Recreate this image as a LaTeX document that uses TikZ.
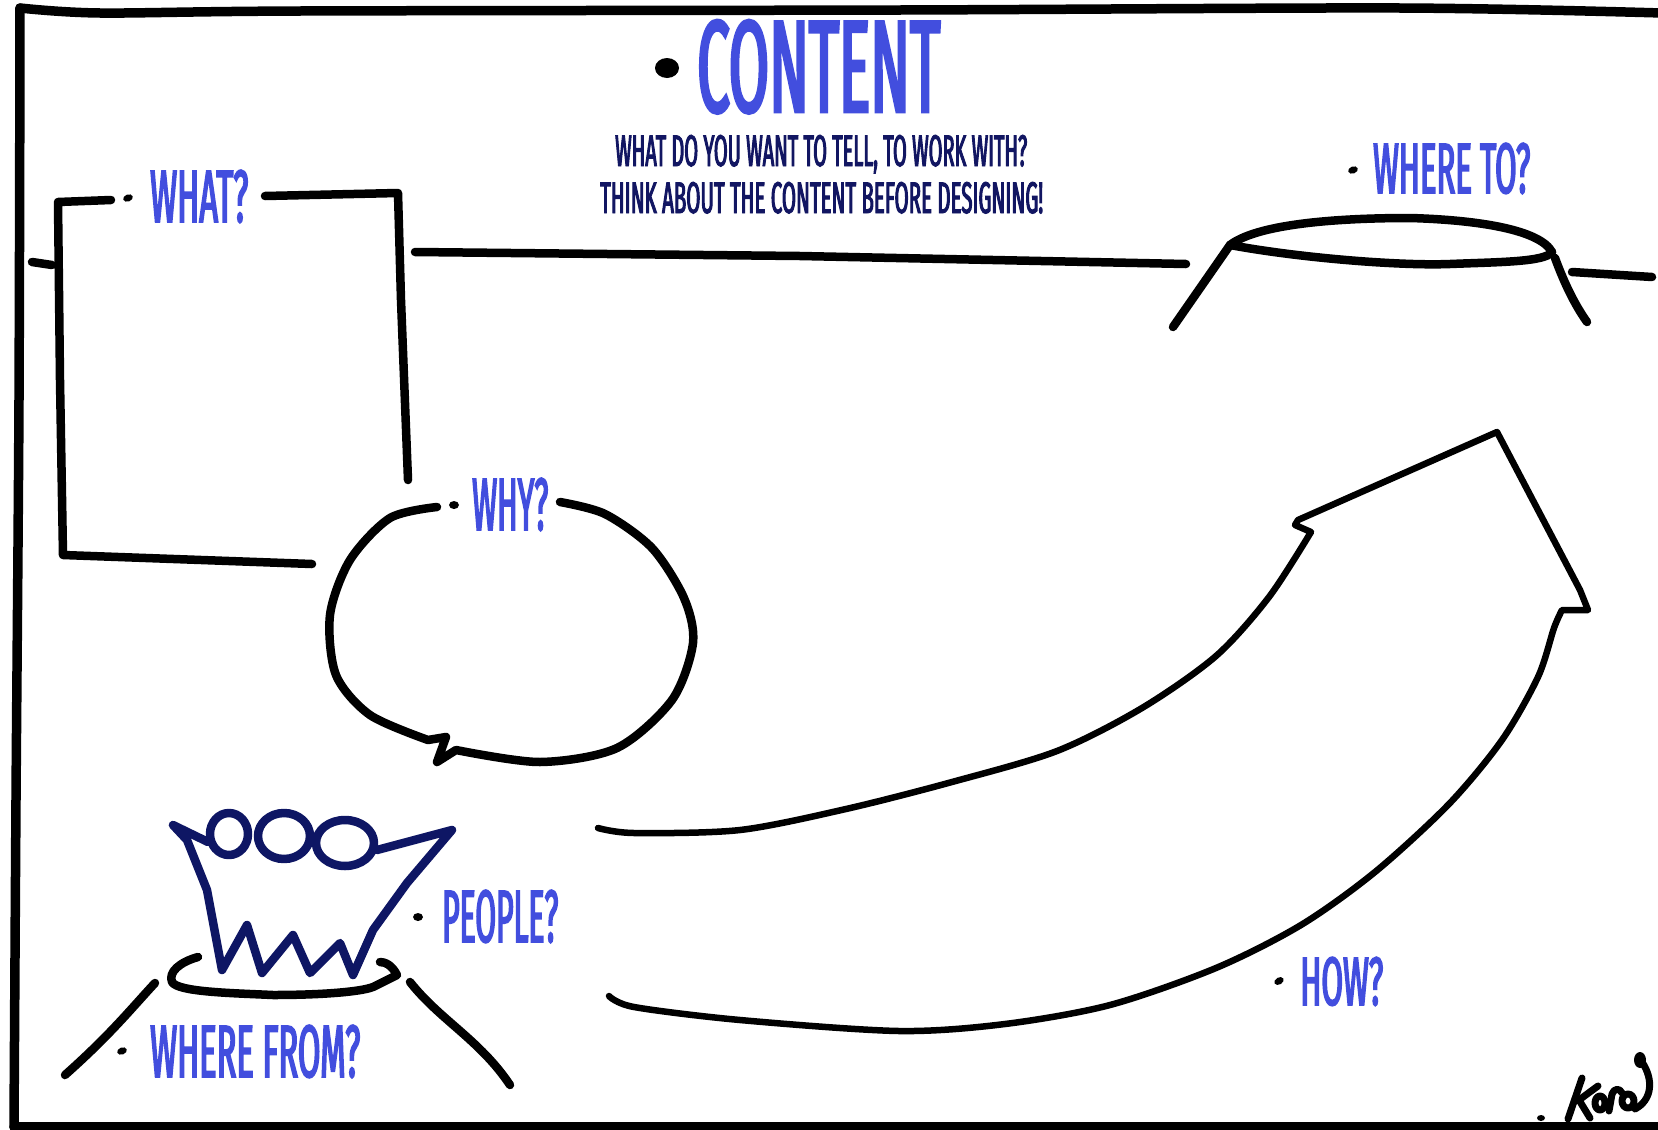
\documentclass[tikz,border=0pt]{standalone}
\usepackage{fontspec}
\usepackage{graphicx}
\setmainfont{Fira Sans}
\newfontfamily\handfont[FakeStretch=0.45,FakeBold=2.2]{Fira Sans}
\definecolor{inkblue}{RGB}{66,78,222}
\definecolor{inknavy}{RGB}{18,22,98}
\definecolor{crownnavy}{RGB}{14,22,100}
% text squeezed into a box of given width and height (pt)
\newcommand\squeezed[3]{\resizebox{#1pt}{#2pt}{\fontsize{50}{60}\handfont #3}}
\tikzset{
  pen/.style={line width=8.5pt, line cap=round, line join=round},
  thinpen/.style={line width=6.5pt, line cap=round, line join=round},
  frame/.style={line width=9.5pt, line cap=round, line join=round},
  crown/.style={crownnavy, line width=8.5pt, line cap=round, line join=round},
  sig/.style={line width=7pt, line cap=round, line join=round},
  lbl/.style={inkblue, inner sep=0pt, anchor=base west},
  sublbl/.style={inknavy, inner sep=0pt, anchor=base west},
}
\begin{document}
\begin{tikzpicture}[x=1pt,y=-1pt]
\useasboundingbox (0,0) rectangle (1658,1130);
\fill[white] (0,0) rectangle (1658,1130);

% sheet frame
\draw[frame] plot[smooth,tension=0.5] coordinates {(1662,13) (1400,8) (900,10) (300,11) (100,13) (20,8)};
\draw[frame] plot[smooth,tension=0.5] coordinates {(20,8) (19,400) (16,800) (14,1127)};
\draw[frame] (14,1127) -- (1662,1127);

% title block
\fill (667,68) ellipse [x radius=12pt, y radius=10pt];
\node[lbl] (content) at (697,112) {\squeezed{243}{92}{CONTENT}};
\node[sublbl] (ask) at (615,166) {\squeezed{412}{31}{WHAT DO YOU WANT TO TELL, TO WORK WITH?}};
\node[sublbl] (think) at (600,213) {\squeezed{443}{31}{THINK ABOUT THE CONTENT BEFORE DESIGNING!}};

% what? box
\draw[pen] (111,200) -- (58,202) -- (60,380) -- (63,555) -- (312,564);
\draw[pen] (265,196) -- (398,193) -- (401,300) -- (408,480);
\draw[pen] (32,262) -- (52,265);
\fill[rotate around={20:(128,198)}] (128,198) ellipse [x radius=5pt, y radius=3.5pt];
\node[lbl] (what) at (150,222) {\squeezed{98}{52}{WHAT?}};

% horizon and destination mound
\draw[pen] (415,252) -- (800,256) -- (1186,264);
\draw[pen] (1572,272) -- (1652,277);
\draw[pen] (1173,327) -- (1230,245);
\draw[pen] (1230,245) .. controls (1260,222) and (1350,218) .. (1410,218) .. controls (1480,220) and (1540,230) .. (1552,252);
\draw[pen] (1230,245) .. controls (1300,258) and (1400,266) .. (1450,264) .. controls (1500,262) and (1545,262) .. (1552,252);
\draw[pen] (1555,258) .. controls (1565,285) and (1575,305) .. (1587,322);
\fill[rotate around={20:(1353,170)}] (1353,170) ellipse [x radius=5pt, y radius=3.5pt];
\node[lbl] (whereto) at (1373,193) {\squeezed{157}{50}{WHERE TO?}};

% why? speech bubble
\draw[pen] plot[smooth] coordinates {(437,507) (390,518) (350,560) (330,615) (336,675) (370,715) (428,740)}
  -- (446,737) -- (437,762) -- (456,750)
  -- plot[smooth] coordinates {(456,750) (540,762) (617,748) (672,700) (693,643) (684,598) (652,548) (605,514) (560,502)};
\fill (454,505) ellipse [x radius=5pt, y radius=4pt];
\node[lbl] (why) at (472,530) {\squeezed{76}{52}{WHY?}};

% how? arrow
\draw[thinpen] plot[smooth] coordinates {(598,828) (634,833) (740,830) (846,809) (952,782) (1057,751) (1142,708) (1216,656) (1269,597) (1311,532)}
  -- (1295,525) -- (1298,520) -- (1497,432) -- (1580,590) -- (1588,610) -- (1562,610)
  -- plot[smooth] coordinates {(1562,610) (1554,628) (1538,677) (1502,740) (1449,804) (1375,872) (1301,925) (1216,968) (1110,1005) (1005,1024) (899,1031) (740,1020) (634,1007) (609,996)};
\fill[rotate around={30:(1279,981)}] (1279,981) ellipse [x radius=5pt, y radius=3.5pt];
\node[lbl] (how) at (1300,1005) {\squeezed{83}{48}{HOW?}};

% people: crown on a pedestal
\draw[pen] (198,957) .. controls (180,962) and (168,972) .. (172,982) .. controls (178,992) and (230,993) .. (273,995) .. controls (320,995) and (360,992) .. (373,987) -- (397,975) .. controls (392,965) and (385,962) .. (380,962);
\draw[pen] (155,983) .. controls (130,1010) and (110,1035) .. (65,1075);
\draw[pen] (410,982) .. controls (440,1020) and (480,1040) .. (510,1085);
\draw[crown] (208,842) -- (173,825) -- (187,840) -- (207,890) -- (222,970) -- (247,925) -- (262,973) -- (293,935) -- (310,973) -- (340,943) -- (353,975) -- (373,930) -- (407,883) -- (452,830) -- (377,850);
\draw[crown] (229,834) ellipse [x radius=19pt, y radius=21pt];
\draw[crown] (284,836) ellipse [x radius=26pt, y radius=23pt];
\draw[crown] (345,843) ellipse [x radius=29pt, y radius=23pt];
\fill (418,917) ellipse [x radius=5pt, y radius=4pt];
\node[lbl] (people) at (442,942) {\squeezed{116}{52}{PEOPLE?}};
\fill[rotate around={20:(122,1051)}] (122,1051) ellipse [x radius=5pt, y radius=3.5pt];
\node[lbl] (wherefrom) at (150,1077) {\squeezed{210}{52}{WHERE FROM?}};

% signature
\fill (1541,1118) ellipse [x radius=4pt, y radius=3pt];
\draw[sig] (1582,1078) -- (1568,1119);
\draw[sig] (1598,1086) -- (1579,1100) -- (1590,1118);
\draw[sig] (1600,1103) ellipse [x radius=5pt, y radius=7pt];
\draw[sig] (1609,1111) -- (1612,1094) .. controls (1614,1088) and (1620,1088) .. (1622,1093);
\draw[sig] (1628,1101) ellipse [x radius=6pt, y radius=7pt];
\draw[sig] (1635,1109) .. controls (1652,1100) and (1654,1080) .. (1642,1062);
\fill (1640,1060) ellipse [x radius=6pt, y radius=8pt];
\end{tikzpicture}
\end{document}
